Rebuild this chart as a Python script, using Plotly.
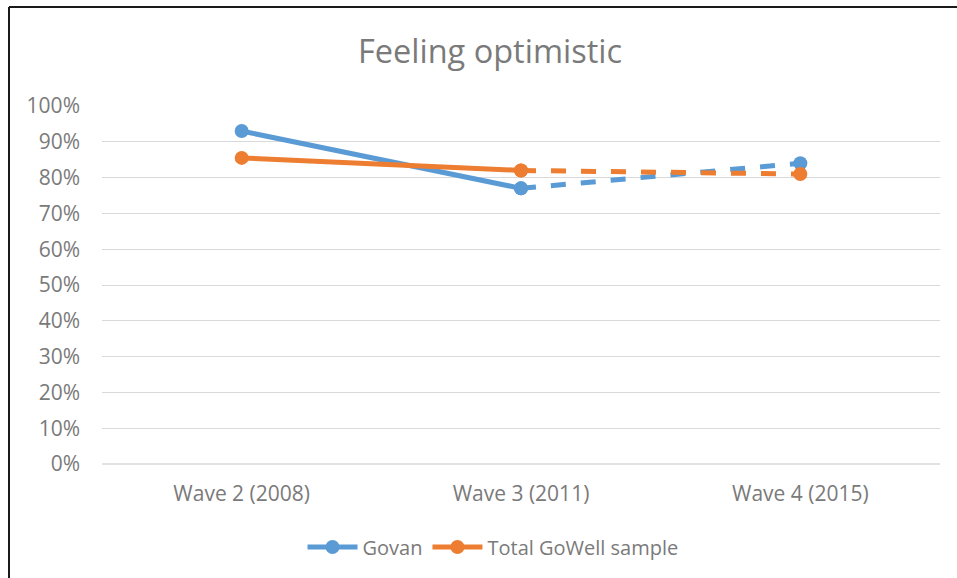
import plotly.graph_objects as go

categories = ["Wave 2 (2008)", "Wave 3 (2011)", "Wave 4 (2015)"]
govan = [0.93, 0.77, 0.84]
total = [0.855, 0.82, 0.81]
y_ticks = [i / 10 for i in range(11)]
y_tick_labels = [f"{i * 10}%" for i in range(11)]

BLUE = "#5B9BD5"
ORANGE = "#ED7D31"
TEXT = "#7A7A7A"
FONT = "Open Sans"

fig = go.Figure()

for name, vals, color in [("Govan", govan, BLUE), ("Total GoWell sample", total, ORANGE)]:
    # solid segment (Wave 2 -> Wave 3)
    fig.add_trace(go.Scatter(
        x=categories[:2], y=vals[:2], name=name, mode="lines+markers",
        line=dict(color=color, width=5), marker=dict(size=14, color=color),
        legendgroup=name, showlegend=True))
    # dashed segment (Wave 3 -> Wave 4)
    fig.add_trace(go.Scatter(
        x=categories[1:], y=vals[1:], name=name, mode="lines+markers",
        line=dict(color=color, width=5, dash="dash"), marker=dict(size=14, color=color),
        legendgroup=name, showlegend=False))

ml, mr, mt, mb = 102, 17, 106, 114
W, H = 957, 578
pw, ph = W - ml - mr, H - mt - mb

def px(xp):
    return (xp - ml) / pw

def py(yp):
    return (H - mb - yp) / ph

fig.update_layout(
    width=W, height=H,
    margin=dict(l=ml, r=mr, t=mt, b=mb),
    paper_bgcolor="white", plot_bgcolor="white",
    font=dict(family=FONT, color=TEXT, size=21),
    title=dict(text="Feeling optimistic", x=490 / W, xanchor="center",
               y=1 - 52 / H, yanchor="middle",
               font=dict(size=32.5, color=TEXT, family=FONT)),
    xaxis=dict(type="category", range=[-0.5, 2.5], showgrid=False,
               showline=False, ticks="", tickfont=dict(size=21, color=TEXT),
               ticklabelstandoff=15, zeroline=False),
    yaxis=dict(range=[0, 1], tickvals=y_ticks, ticktext=y_tick_labels,
               showgrid=True, gridcolor="#D9D9D9", gridwidth=1.3,
               zeroline=False, showline=False, ticks="",
               tickfont=dict(size=21, color=TEXT), ticklabelstandoff=21),
    legend=dict(orientation="h", x=px(493), xanchor="center", y=py(547), yanchor="middle",
                font=dict(size=20, color=TEXT), itemwidth=50, traceorder="normal"),
    showlegend=True,
    shapes=[
        dict(type="line", xref="paper", yref="paper", x0=px(9), x1=px(9),
             y0=py(7), y1=py(H + 5), line=dict(color="#1a1a1a", width=2)),
        dict(type="line", xref="paper", yref="paper", x0=px(9), x1=px(W + 5),
             y0=py(7), y1=py(7), line=dict(color="#1a1a1a", width=2)),
        dict(type="line", xref="paper", yref="paper", x0=0, x1=1,
             y0=0, y1=0, line=dict(color="#D9D9D9", width=1.3), layer="below"),
    ],
)

fig.write_html("out.html", config={"displayModeBar": False},
               post_script="document.body.style.margin='0';")
